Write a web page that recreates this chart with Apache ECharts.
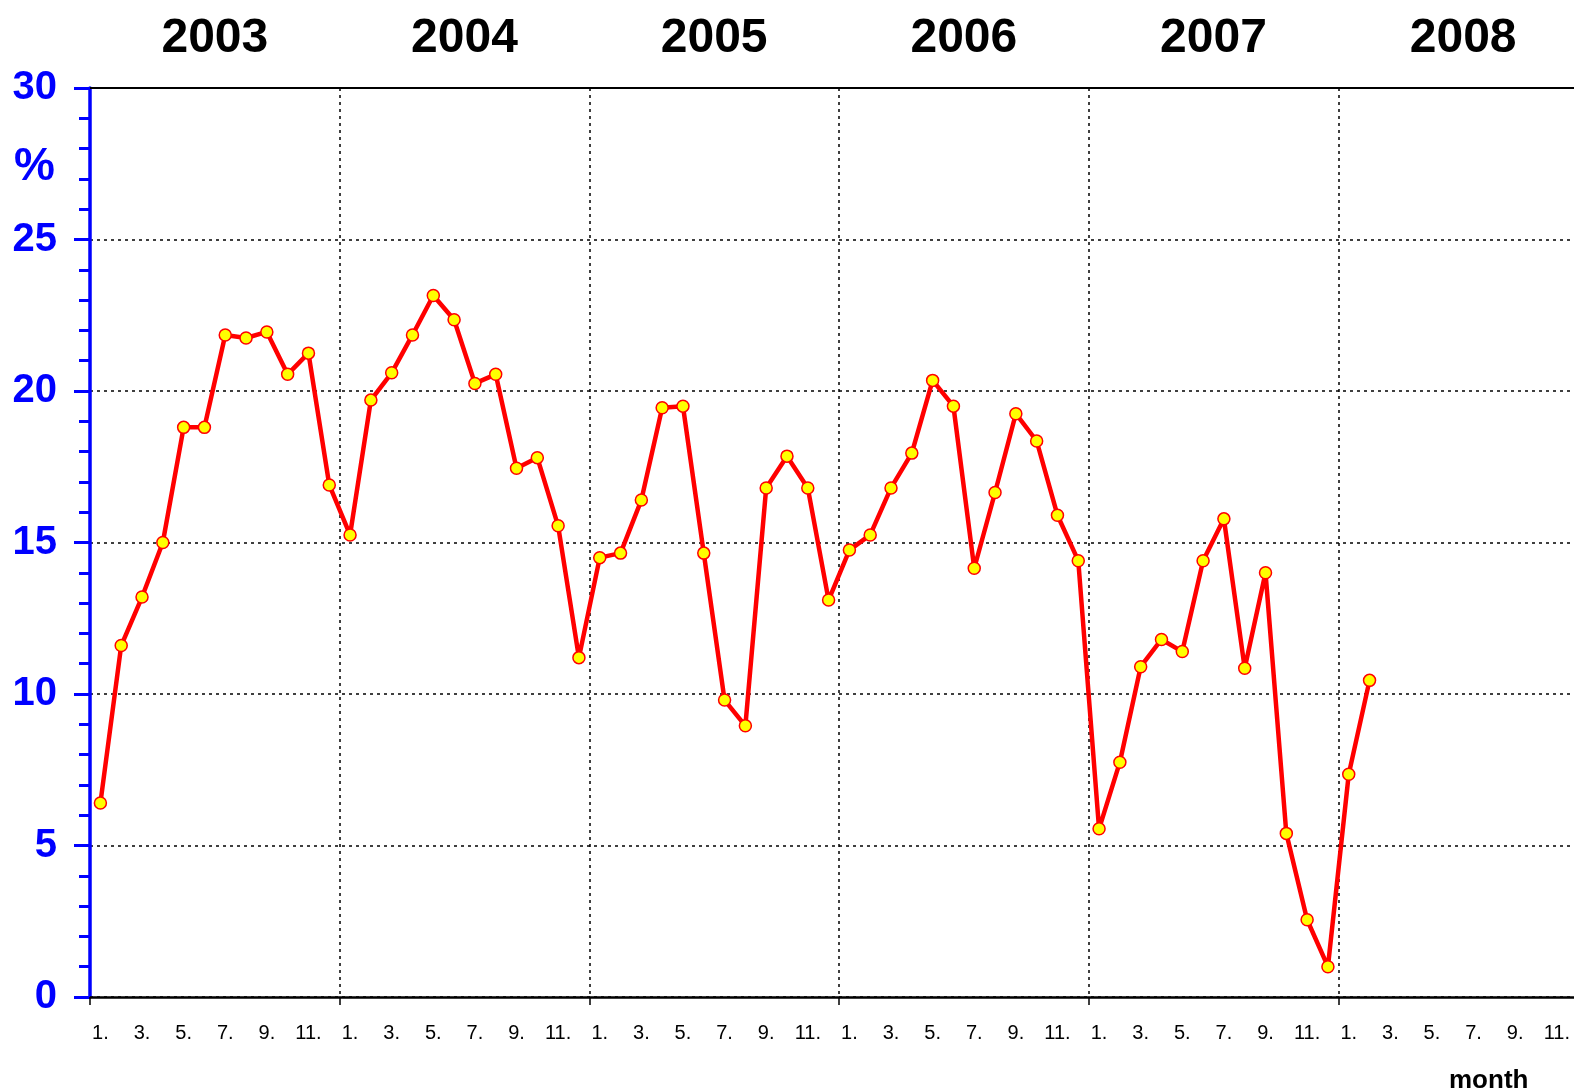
<!DOCTYPE html>
<html>
<head>
<meta charset="utf-8">
<script src="https://cdn.jsdelivr.net/npm/echarts@6/dist/echarts.min.js"></script>
<style>
  html, body { margin: 0; padding: 0; background: #fff; overflow: hidden; }
  #main { width: 1574px; height: 1090px; }
</style>
</head>
<body>
<div id="main"></div>
<script>
// year labels along the top, month labels along the bottom
var years = ['2003', '2004', '2005', '2006', '2007', '2008'];
var months = ['1.', '2.', '3.', '4.', '5.', '6.', '7.', '8.', '9.', '10.', '11.', '12.'];

// monthly values, %, Jan 2003 .. Feb 2008
var values2003 = [6.4, 11.6, 13.2, 15.0, 18.8, 18.8, 21.85, 21.75, 21.95, 20.55, 21.25, 16.9];
var values2004 = [15.25, 19.7, 20.6, 21.85, 23.15, 22.35, 20.25, 20.55, 17.45, 17.8, 15.55, 11.2];
var values2005 = [14.5, 14.65, 16.4, 19.45, 19.5, 14.65, 9.8, 8.95, 16.8, 17.85, 16.8, 13.1];
var values2006 = [14.75, 15.25, 16.8, 17.95, 20.35, 19.5, 14.15, 16.65, 19.25, 18.35, 15.9, 14.4];
var values2007 = [5.55, 7.75, 10.9, 11.8, 11.4, 14.4, 15.78, 10.85, 14.0, 5.4, 2.55, 1.0];
var values2008 = [7.35, 10.45];

var yTicks = [0, 5, 10, 15, 20, 25, 30];

var categories = [];
years.forEach(function () {
  months.forEach(function (m) { categories.push(m); });
});
var values = [].concat(values2003, values2004, values2005, values2006, values2007, values2008);

var font = "'Liberation Sans', Arial, sans-serif";
var narrow = "'Liberation Sans Narrow', 'Arial Narrow', 'Liberation Sans', sans-serif";
var blue = '#0000ff';
var dotted = { color: '#000', width: 1.5, type: [3, 4] };

var myChart = echarts.init(document.getElementById('main'));
var option = {
  animation: false,
  backgroundColor: '#fff',
  textStyle: { fontFamily: font },
  // the plot runs a little past the right edge of the page
  grid: {
    left: 90, width: 1498, top: 88, bottom: 93,
    containLabel: false,
    outerBoundsMode: 'none'
  },
  xAxis: [
    {
      type: 'category',
      data: categories,
      boundaryGap: true,
      axisLine: { show: true, lineStyle: { color: '#000', width: 2.5 } },
      axisTick: {
        show: true,
        length: 8,
        interval: function (i) { return i % 12 === 0; },
        lineStyle: { color: '#000', width: 1.5 }
      },
      axisLabel: {
        interval: 1,
        color: '#000',
        fontSize: 20,
        fontFamily: narrow,
        margin: 26
      },
      splitLine: {
        show: true,
        interval: function (i) { return i % 12 === 0 && i > 0; },
        lineStyle: dotted
      }
    },
    {
      type: 'category',
      position: 'top',
      data: years,
      boundaryGap: true,
      axisLine: { show: true, lineStyle: { color: '#000', width: 2 } },
      axisTick: { show: false },
      axisLabel: {
        color: '#000',
        fontSize: 48,
        fontWeight: 'bold',
        fontFamily: font,
        margin: 25
      },
      splitLine: { show: false }
    }
  ],
  yAxis: {
    type: 'value',
    min: yTicks[0],
    max: yTicks[yTicks.length - 1],
    interval: 5,
    axisLine: { show: true, lineStyle: { color: blue, width: 3.5 } },
    axisTick: { show: true, length: 16, lineStyle: { color: blue, width: 3 } },
    minorTick: { show: true, splitNumber: 5, length: 11, lineStyle: { color: blue, width: 3 } },
    axisLabel: {
      color: blue,
      fontSize: 40,
      fontWeight: 'bold',
      fontFamily: font,
      margin: 33
    },
    splitLine: { show: true, lineStyle: dotted }
  },
  graphic: [
    {
      type: 'text',
      left: 14,
      top: 144,
      style: { text: '%', fill: blue, font: 'bold 46px ' + font }
    },
    {
      type: 'text',
      left: 1449,
      top: 1068,
      style: { text: 'month', fill: '#000', font: 'bold 26px ' + font }
    }
  ],
  series: [
    {
      type: 'line',
      data: values,
      symbol: 'circle',
      symbolSize: 12,
      itemStyle: { color: '#ffff00', borderColor: '#ff0000', borderWidth: 1.5 },
      lineStyle: { color: '#ff0000', width: 4.5 }
    }
  ]
};
myChart.setOption(option);
</script>
</body>
</html>
